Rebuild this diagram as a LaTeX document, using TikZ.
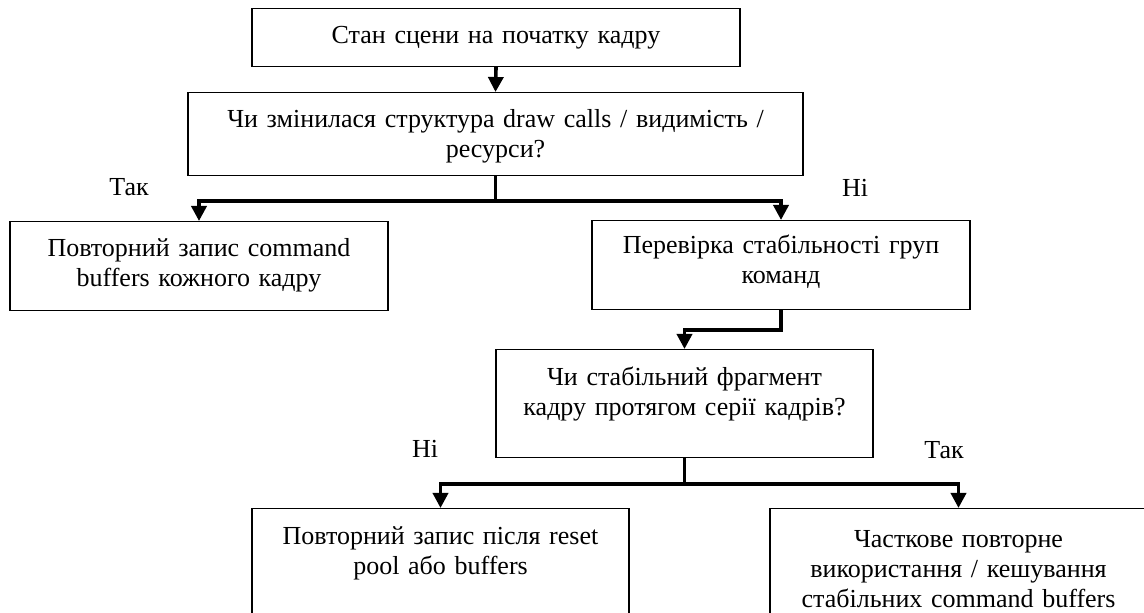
\documentclass[tikz,border=0pt]{standalone}
\usepackage{fontspec}
\setmainfont{Liberation Serif}
\usetikzlibrary{arrows.meta}

\begin{document}
\begin{tikzpicture}[x=0.5pt,y=-0.5pt,
	box/.style={draw,line width=0.6pt,inner xsep=0pt,inner ysep=0pt,align=center,anchor=north,
		font=\fontsize{13pt}{15pt}\selectfont,text height=17.5pt},
	flow/.style={line width=1.8pt,-{Triangle[width=7.5pt,length=7.5pt]}},
	answer/.style={anchor=base,font=\fontsize{13pt}{15pt}\selectfont}]
	\useasboundingbox (0,0) rectangle (1144,613);
	\node[box,text width=244pt,text depth=11.5pt] (start) at (496,8) {Стан сцени на початку кадру};
	\node[box,text width=307.5pt,text depth=24pt] (q1) at (495.5,92) {Чи змінилася структура draw calls / видимість /\\ресурси?};
	\node[box,text width=189pt,text depth=27pt] (redo) at (199,221) {Повторний запис command\\buffers кожного кадру};
	\node[box,text width=189pt,text depth=28pt,text height=16.5pt] (check) at (781,220) {Перевірка стабільності груп\\команд};
	\node[box,text width=188.5pt,text depth=36pt,text height=18pt] (q2) at (684.5,349) {Чи стабільний фрагмент\\кадру протягом серії кадрів?};
	\node[box,text width=188.5pt,text depth=50pt,text height=18pt] (reset) at (440.5,508) {Повторний запис після reset\\pool або buffers};
	\node[box,text width=188.5pt,text depth=50pt,text height=19.5pt] (reuse) at (958.5,508) {Часткове повторне\\використання / кешування\\стабільних command buffers};
	\node[answer] (yes1) at (129,196) {Так};
	\node[answer] (no1) at (855,197) {Ні};
	\node[answer] (no2) at (425,458) {Ні};
	\node[answer] (yes2) at (944,459) {Так};
	\draw[flow] (start.south) -- (q1.north);
	\draw[flow] (q1.south) -- ++(0,25) -| (redo.north);
	\draw[flow] (q1.south) -- ++(0,25) -| (check.north);
	\draw[flow] (check.south) -- ++(0,20) -| (q2.north);
	\draw[flow] (q2.south) -- ++(0,26) -| (reset.north);
	\draw[flow] (q2.south) -- ++(0,26) -| (reuse.north);
\end{tikzpicture}
\end{document}
